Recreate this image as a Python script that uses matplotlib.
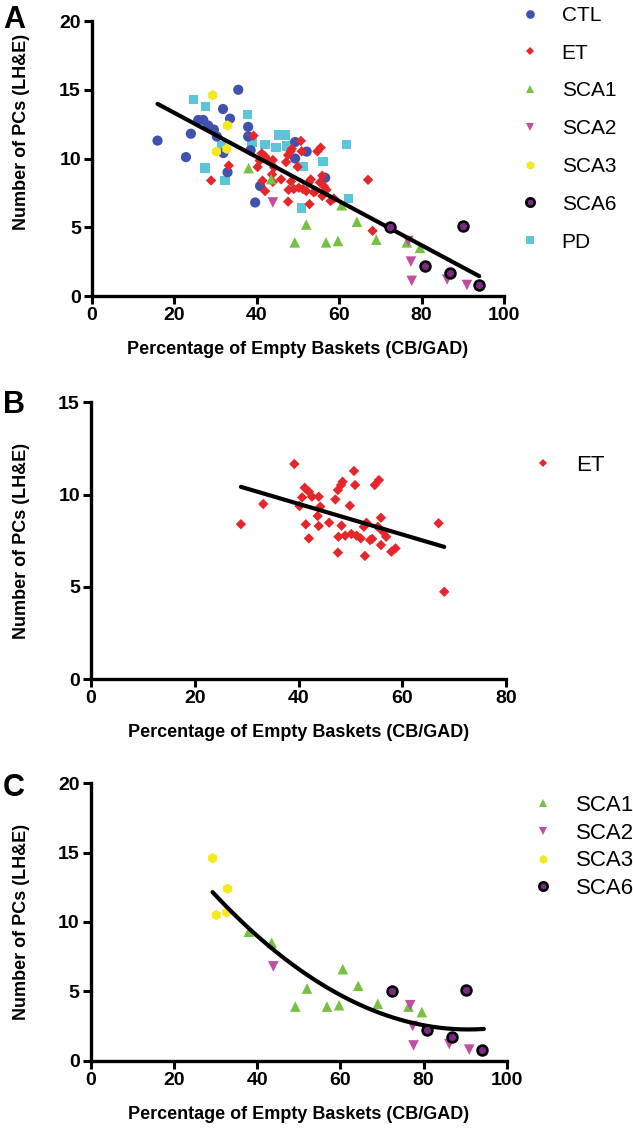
import numpy as np
import matplotlib
matplotlib.use('Agg')
import matplotlib.pyplot as plt
from matplotlib.lines import Line2D

plt.rcParams['font.family'] = ['Liberation Sans', 'DejaVu Sans']

# data (x = % empty baskets, y = number of PCs)
ctl_x = [15.9, 22.8, 24.0, 25.8, 27.0, 28.2, 29.6, 30.3, 31.8, 33.5, 35.5, 31.9, 32.9,
         37.9, 37.9, 38.5, 40.8, 39.6, 49.3, 52.1, 49.3, 56.6]
ctl_y = [11.3, 10.1, 11.8, 12.8, 12.8, 12.4, 12.1, 11.6, 13.6, 12.9, 15.0, 10.4, 9.0,
         12.3, 11.6, 10.6, 8.0, 6.8, 11.2, 10.5, 10.0, 8.6]

et_x = [28.9, 33.2, 39.2, 40.2, 41.2, 42.0, 40.7, 42.6, 43.9, 44.2, 43.7, 41.4, 43.9,
        42.0, 45.9, 47.1, 47.6, 48.2, 48.5, 50.7, 50.9, 49.9, 47.6, 47.7, 48.3, 49.0,
        50.2, 51.2, 52.0, 52.8, 53.1, 52.6, 53.8, 54.2, 54.7, 55.5, 55.9, 55.3, 56.3,
        56.9, 55.9, 57.9, 58.7, 67.0, 68.1]
et_y = [8.4, 9.49, 11.66, 9.38, 10.37, 10.16, 9.85, 9.89, 9.89, 9.35, 8.84, 8.39, 8.3,
        7.63, 8.48, 9.74, 10.25, 10.52, 10.7, 11.28, 10.52, 9.4, 6.86, 7.72, 8.32, 7.78,
        7.87, 7.78, 7.63, 6.68, 8.48, 8.26, 7.54, 7.6, 10.52, 10.79, 8.75, 8.26, 7.99,
        7.72, 7.27, 6.91, 7.09, 8.45, 4.74]

sca1_x = [38.0, 43.5, 49.2, 52.0, 56.8, 59.7, 60.6, 64.3, 69.0, 76.4, 79.6]
sca1_y = [9.3, 8.5, 3.9, 5.2, 3.9, 4.0, 6.6, 5.4, 4.1, 3.9, 3.5]

sca2_x = [43.9, 76.8, 77.4, 77.6, 86.2, 91.0]
sca2_y = [6.8, 4.0, 2.5, 1.1, 1.2, 0.8]

sca3_x = [29.3, 32.9, 30.2, 32.7]
sca3_y = [14.6, 12.4, 10.5, 10.7]

sca6_x = [72.4, 90.1, 80.8, 86.9, 94.0]
sca6_y = [5.0, 5.1, 2.2, 1.7, 0.8]

pd_x = [24.6, 27.6, 37.8, 27.4, 32.3, 31.5, 38.8, 42.0, 44.7, 45.2, 46.8, 47.3, 51.3,
        56.1, 61.8, 62.2, 50.9]
pd_y = [14.3, 13.8, 13.2, 9.3, 8.4, 10.9, 11.2, 11.0, 10.8, 11.7, 11.7, 10.9, 9.4,
        9.8, 11.0, 7.1, 6.4]

groups = {
    'CTL':  (ctl_x, ctl_y),
    'ET':   (et_x, et_y),
    'SCA1': (sca1_x, sca1_y),
    'SCA2': (sca2_x, sca2_y),
    'SCA3': (sca3_x, sca3_y),
    'SCA6': (sca6_x, sca6_y),
    'PD':   (pd_x, pd_y),
}

# marker styles (Prism-like)
sty = {
    'CTL':  dict(marker='o', s=54, c='#4152AE', edgecolors='none', zorder=3),
    'ET':   dict(marker='D', s=28, c='#E5262A', edgecolors='none', zorder=4),
    'SCA1': dict(marker='^', s=58, c='#77C142', edgecolors='none', zorder=4),
    'SCA2': dict(marker='v', s=58, c='#C24EA2', edgecolors='none', zorder=4),
    'SCA3': dict(marker='h', s=56, c='#F3E91C', edgecolors='none', zorder=4),
    'SCA6': dict(marker='o', s=50, c='#7A2C84', edgecolors='black', linewidths=1.9, zorder=6),
    'PD':   dict(marker='s', s=46, c='#5BC5DA', edgecolors='none', zorder=2),
}

W, H = 633, 1130
fig = plt.figure(figsize=(W / 100, H / 100), dpi=100)


def px_axes(l, r, b, t):
    return fig.add_axes([l / W, 1 - b / H, (r - l) / W, (b - t) / H])


def style(ax, xmax, ymax, xstep, ystep, ylab_y=0.5):
    ax.set_xlim(0, xmax)
    ax.set_ylim(0, ymax)
    ax.set_xticks(np.arange(0, xmax + 1, xstep))
    ax.set_yticks(np.arange(0, ymax + 1, ystep))
    for s in ['top', 'right']:
        ax.spines[s].set_visible(False)
    for s in ['left', 'bottom']:
        ax.spines[s].set_linewidth(2.4)
    ax.tick_params(width=2.2, length=6, labelsize=14, pad=2)
    for lab in ax.get_xticklabels() + ax.get_yticklabels():
        lab.set_fontweight('bold')
    ax.set_xlabel('Percentage of Empty Baskets (CB/GAD)', fontsize=13, fontweight='bold')
    ax.set_ylabel('Number of PCs (LH&E)', fontsize=13, fontweight='bold')
    ax.xaxis.set_label_coords(0.5, -0.163)
    bb = ax.get_position()
    ax.yaxis.set_label_coords((30 / W - bb.x0) / bb.width, ylab_y)


def scatter_groups(ax, names):
    handles = []
    for n in names:
        x, y = groups[n]
        ax.scatter(x, y, clip_on=False, **sty[n])
        st = sty[n]
        handles.append(Line2D([], [], linestyle='none', marker=st['marker'],
                              markersize=np.sqrt(st['s']) * 0.85, markerfacecolor=st['c'],
                              markeredgecolor=st['edgecolors'] if st['edgecolors'] != 'none' else st['c'],
                              markeredgewidth=st.get('linewidths', 0), label=n))
    return handles


def add_legend(handles, left_px, top_px, spacing, size):
    fig.legend(handles=handles, loc='upper left',
               bbox_to_anchor=(left_px / W, 1 - top_px / H), bbox_transform=fig.transFigure,
               frameon=False, fontsize=size, handlelength=1.0, handletextpad=1.0,
               borderpad=0, borderaxespad=0, labelspacing=spacing)


# ---- Panel A
axA = px_axes(92, 504, 296, 21)
names_a = ['CTL', 'ET', 'SCA1', 'SCA2', 'SCA3', 'SCA6', 'PD']
hA = scatter_groups(axA, names_a)
allx = np.concatenate([groups[n][0] for n in names_a])
ally = np.concatenate([groups[n][1] for n in names_a])
k = np.polyfit(allx, ally, 1)
xx = np.linspace(allx.min(), allx.max(), 50)
axA.plot(xx, np.polyval(k, xx), color='black', lw=3, zorder=5, solid_capstyle='round')
style(axA, 100, 20, 20, 5, ylab_y=0.596)
add_legend(hA, 520, 6, 0.9, 15)

# ---- Panel B
axB = px_axes(91, 506, 679.3, 402.3)
hB = scatter_groups(axB, ['ET'])
k = np.polyfit(et_x, et_y, 1)
xx = np.linspace(min(et_x), max(et_x), 50)
axB.plot(xx, np.polyval(k, xx), color='black', lw=3, zorder=5, solid_capstyle='round')
style(axB, 80, 15, 20, 5)
add_legend(hB, 532, 455, 0.3, 16)

# ---- Panel C (second order polynomial)
axC = px_axes(90.7, 506.7, 1060.7, 783.3)
names_c = ['SCA1', 'SCA2', 'SCA3', 'SCA6']
hC = scatter_groups(axC, names_c)
cx = np.concatenate([groups[n][0] for n in names_c])
cy = np.concatenate([groups[n][1] for n in names_c])
k = np.polyfit(cx, cy, 2)
xx = np.linspace(cx.min(), cx.max() + 0.5, 80)
axC.plot(xx, np.polyval(k, xx), color='black', lw=3, zorder=5, solid_capstyle='round')
style(axC, 100, 20, 20, 5)
add_legend(hC, 532, 795, 0.3, 16)

# panel letters
for letter, y in [('A', 5), ('B', 390), ('C', 773)]:
    fig.text(3 / W, 1 - y / H, letter, fontsize=22, fontweight='bold', va='top', ha='left')

fig.savefig('out.png', dpi=100, facecolor='white')
